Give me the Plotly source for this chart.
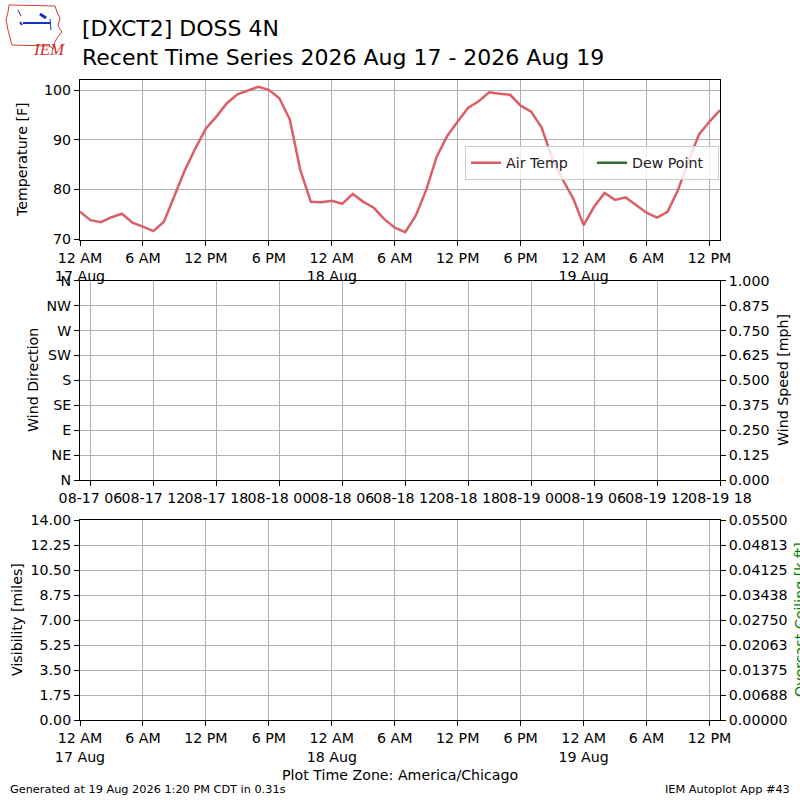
import pandas as pd
import plotly.graph_objects as go

# hourly air temperature [F], 17 Aug 00:00 -> 19 Aug 13:00 (America/Chicago)
air_temp = [75.5, 73.8, 73.4, 74.4, 75.1, 73.3, 72.5, 71.6, 73.5, 78.9, 83.9, 88.3,
            92.3, 94.7, 97.4, 99.2, 99.9, 100.7, 100.1, 98.4, 94.1, 83.9, 77.5, 77.4,
            77.7, 77.1, 79.1, 77.5, 76.3, 74.0, 72.3, 71.4, 74.7, 79.9, 86.6, 90.8,
            93.7, 96.5, 97.8, 99.6, 99.3, 99.1, 96.9, 95.7, 92.5, 86.3, 82.0, 78.2,
            72.8, 76.5, 79.3, 77.9, 78.4, 76.9, 75.3, 74.3, 75.5, 79.9, 85.8, 91.1,
            93.7, 96.0]
# nothing reported for these, one missing value keeps each trace (and its axes) alive
dew_point = [None]
wind_dir = [None]
wind_speed = [None]
visibility = [None]
ceiling = [None]

times = pd.date_range("2026-08-17 00:00", periods=len(air_temp), freq="h")
x_range = [times[0], times[-1]]

# local time tick labels
local_ticks = pd.date_range("2026-08-17 00:00", "2026-08-19 12:00", freq="6h")
local_labels = ["12 AM<br>17 Aug", "6 AM", "12 PM", "6 PM",
                "12 AM<br>18 Aug", "6 AM", "12 PM", "6 PM",
                "12 AM<br>19 Aug", "6 AM", "12 PM"]

# middle panel uses UTC labels (CDT + 5h)
utc_ticks = pd.date_range("2026-08-17 01:00", "2026-08-19 13:00", freq="6h")
utc_labels = ["08-17 06", "08-17 12", "08-17 18", "08-18 00", "08-18 06", "08-18 12",
              "08-18 18", "08-19 00", "08-19 06", "08-19 12", "08-19 18"]

temp_ticks = [70, 80, 90, 100]
dir_ticks = [0, 45, 90, 135, 180, 225, 270, 315, 360]
dir_labels = ["N", "NE", "E", "SE", "S", "SW", "W", "NW", "N"]
speed_ticks = [0, 0.125, 0.25, 0.375, 0.5, 0.625, 0.75, 0.875, 1.0]
speed_labels = ["0.000", "0.125", "0.250", "0.375", "0.500", "0.625", "0.750", "0.875", "1.000"]
vis_ticks = [0, 1.75, 3.5, 5.25, 7.0, 8.75, 10.5, 12.25, 14.0]
vis_labels = ["0.00", "1.75", "3.50", "5.25", "7.00", "8.75", "10.50", "12.25", "14.00"]
ceil_ticks = [0, 0.006875, 0.01375, 0.020625, 0.0275, 0.034375, 0.04125, 0.048125, 0.055]
ceil_labels = ["0.00000", "0.00688", "0.01375", "0.02063", "0.02750", "0.03438",
               "0.04125", "0.04813", "0.05500"]

FONT = "DejaVu Sans"
FS = 14.2
GRID = "#b0b0b0"


def px(x, y):
    # pixel position -> paper coords (figure is 800x800 with zero margins)
    return x / 800, 1 - y / 800


fig = go.Figure()
fig.add_trace(go.Scatter(x=times, y=air_temp, mode="lines", name="Air Temp",
                         line=dict(color="#dc5f68", width=2.5), xaxis="x", yaxis="y"))
fig.add_trace(go.Scatter(x=times[:1], y=dew_point, mode="lines", name="Dew Point",
                         line=dict(color="#2e6b30", width=2.5), xaxis="x", yaxis="y"))
for vals, xa, ya in [(wind_dir, "x2", "y2"), (wind_speed, "x2", "y3"),
                     (visibility, "x3", "y4"), (ceiling, "x3", "y5")]:
    fig.add_trace(go.Scatter(x=times[:1], y=vals, mode="lines", xaxis=xa, yaxis=ya,
                             showlegend=False, hoverinfo="skip"))

axis_common = dict(showline=True, linecolor="black", linewidth=1, ticks="outside", ticklen=5,
                   tickcolor="black", tickfont=dict(family=FONT, size=FS, color="black"),
                   zeroline=False, automargin=False)
xdom = [80 / 800, 720 / 800]

fig.update_layout(
    width=800, height=800, autosize=False,
    margin=dict(l=0, r=0, t=0, b=0),
    paper_bgcolor="white", plot_bgcolor="white",
    font=dict(family=FONT, size=FS, color="black"),
    showlegend=True,
    legend=dict(x=465 / 800, y=1 - 146 / 800, xanchor="left", yanchor="top",
                orientation="h", bgcolor="rgba(255,255,255,0.8)", bordercolor="#cccccc",
                borderwidth=1, font=dict(family=FONT, size=FS, color="#222222"),
                itemwidth=30, entrywidth=81),
    # top panel
    xaxis=dict(domain=xdom, anchor="y", type="date", range=x_range, tickvals=local_ticks,
               ticktext=local_labels, tickangle=0, showgrid=True, gridcolor=GRID, mirror=True,
               **axis_common),
    yaxis=dict(domain=[1 - 239.5 / 800, 1 - 80 / 800], anchor="x", range=[69.9, 102.08],
               tickvals=temp_ticks, showgrid=True, gridcolor=GRID, mirror=True, **axis_common),
    # middle panel
    xaxis2=dict(domain=xdom, anchor="y2", type="date", range=x_range, tickvals=utc_ticks,
                ticktext=utc_labels, tickangle=0, showgrid=True, gridcolor=GRID, mirror=True,
                **axis_common),
    yaxis2=dict(domain=[1 - 480 / 800, 1 - 280.7 / 800], anchor="x2", range=[0, 360],
                tickvals=dir_ticks, ticktext=dir_labels, showgrid=True, gridcolor=GRID, **axis_common),
    yaxis3=dict(overlaying="y2", side="right", anchor="x2", range=[0, 1],
                tickvals=speed_ticks, ticktext=speed_labels, showgrid=False, **axis_common),
    # bottom panel
    xaxis3=dict(domain=xdom, anchor="y4", type="date", range=x_range, tickvals=local_ticks,
                ticktext=local_labels, tickangle=0, showgrid=True, gridcolor=GRID, mirror=True,
                **axis_common),
    yaxis4=dict(domain=[1 - 720 / 800, 1 - 520 / 800], anchor="x3", range=[0, 14],
                tickvals=vis_ticks, ticktext=vis_labels, showgrid=True, gridcolor=GRID, **axis_common),
    yaxis5=dict(overlaying="y4", side="right", anchor="x3", range=[0, 0.055],
                tickvals=ceil_ticks, ticktext=ceil_labels, showgrid=False, **axis_common),
)

# titles and axis labels as annotations so they sit where the original has them
notes = [
    (80, 28, "[DXCT2] DOSS 4N", 22, "black", 0, "left"),
    (80, 57, "Recent Time Series 2026 Aug 17 - 2026 Aug 19", 22, "black", 0, "left"),
    (22, 160, "Temperature [F]", FS, "black", -90, "center"),
    (33, 380, "Wind Direction", FS, "black", -90, "center"),
    (783, 380, "Wind Speed [mph]", FS, "black", -90, "center"),
    (17, 620, "Visibility [miles]", FS, "black", -90, "center"),
    (800, 620, "Overcast Ceiling [k ft]", FS, "green", -90, "center"),
    (400, 775, "Plot Time Zone: America/Chicago", FS, "black", 0, "center"),
    (8, 789, "Generated at 19 Aug 2026 1:20 PM CDT in 0.31s", 11.3, "black", 0, "left"),
    (792, 789, "IEM Autoplot App #43", 11.3, "black", 0, "right"),
]
for x, y, txt, size, col, ang, anc in notes:
    ax, ay = px(x, y)
    fig.add_annotation(x=ax, y=ay, xref="paper", yref="paper", text=txt, showarrow=False,
                       textangle=ang, xanchor=anc, yanchor="middle",
                       font=dict(family=FONT, size=size, color=col))

# rough IEM logo: state outline, barb, text
outline = [(9, 5), (55, 6), (57, 12), (60, 18), (58, 26), (62, 32), (57, 38), (54, 44),
           (53, 49), (50, 46), (12, 45), (10, 38), (8, 30), (6, 20), (8, 12)]
path = "M " + " L ".join("%.4f,%.4f" % px(a, b) for a, b in outline) + " Z"
fig.add_shape(type="path", path=path, xref="paper", yref="paper",
              line=dict(color="#d04040", width=1))
for (x0, y0, x1, y1, w) in [(23, 23, 50, 23, 2), (40, 14, 46, 18, 3), (18, 10, 21, 16, 1),
                            (50, 19, 51, 30, 1), (20, 22, 22, 25, 2)]:
    a0, b0 = px(x0, y0)
    a1, b1 = px(x1, y1)
    fig.add_shape(type="line", x0=a0, y0=b0, x1=a1, y1=b1, xref="paper", yref="paper",
                  line=dict(color="#1a2fc0", width=w))
lx, ly = px(31, 38)
fig.add_annotation(x=lx, y=ly, xref="paper", yref="paper", text="<i>IEM</i>", showarrow=False,
                   font=dict(family="Liberation Serif", size=17, color="#d03030"))

# page body has a default 8px margin, drop it so the figure sits at the window corner
fig.write_html("out.html", config={"displayModeBar": False},
               post_script="document.body.style.margin = '0';")
